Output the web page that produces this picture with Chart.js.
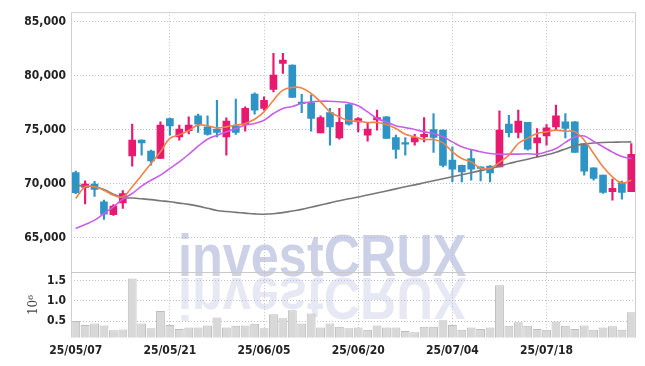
<!DOCTYPE html>
<html>
<head>
<meta charset="utf-8">
<script src="https://cdn.jsdelivr.net/npm/chart.js@4.4.1/dist/chart.umd.min.js"></script>
<style>
  html, body { margin: 0; padding: 0; background: #fff; }
</style>
</head>
<body>
<canvas id="myChart" width="645" height="366"></canvas>
<script>
// trading days shown on the x axis
const dates = [
  '25/05/07','25/05/08','25/05/09','25/05/12','25/05/13','25/05/14','25/05/15','25/05/16','25/05/19','25/05/20',
  '25/05/21','25/05/22','25/05/23','25/05/26','25/05/27','25/05/28','25/05/29','25/05/30','25/06/02','25/06/04',
  '25/06/05','25/06/09','25/06/10','25/06/11','25/06/12','25/06/13','25/06/16','25/06/17','25/06/18','25/06/19',
  '25/06/20','25/06/23','25/06/24','25/06/25','25/06/26','25/06/27','25/06/30','25/07/01','25/07/02','25/07/03',
  '25/07/04','25/07/07','25/07/08','25/07/09','25/07/10','25/07/11','25/07/14','25/07/15','25/07/16','25/07/17',
  '25/07/18','25/07/21','25/07/22','25/07/23','25/07/24','25/07/25','25/07/28','25/07/29','25/07/30','25/07/31'
];

const opens = [
  71000, 69630, 69950, 68300, 67100, 68200, 72560, 74010, 72990, 72310,
  76020, 74320, 74900, 76260, 75240, 75030, 74320, 75340, 75460, 78270,
  76950, 78700, 81110, 80960, 77450, 77500, 74690, 76570, 74220, 77310,
  75710, 74470, 75890, 76170, 74260, 73700, 73850, 74320, 75000, 74940,
  72160, 71690, 72310, 71450, 71600, 71540, 75490, 74720, 75650, 73760,
  74400, 75240, 75710, 75710, 73700, 71440, 70770, 69230, 70090, 69230
];
const highs = [
  71150, 70250, 70200, 68450, 68050, 69350, 75490, 74050, 73080, 75700,
  76050, 75400, 76170, 76420, 76260, 77710, 76080, 77810, 77090, 78390,
  78020, 82040, 82040, 80990, 78250, 78180, 76260, 76950, 76950, 77350,
  76110, 75560, 76790, 76200, 74470, 74260, 74540, 76110, 76480, 74960,
  73390, 71700, 73150, 71540, 71650, 76720, 76320, 76790, 75660, 75090,
  75460, 77250, 76480, 75720, 73710, 71450, 70780, 70400, 70210, 73700
];
const lows = [
  69050, 68100, 68800, 66670, 67050, 67700, 71600, 72620, 71690, 72310,
  74470, 74010, 74580, 74720, 74470, 74320, 72620, 74540, 74840, 76420,
  76790, 78480, 80190, 77960, 76560, 74840, 74690, 73550, 74100, 75400,
  74780, 73920, 74930, 74170, 72310, 72620, 73550, 73850, 72870, 71540,
  70150, 70150, 70300, 70240, 70150, 71540, 74320, 74220, 73080, 72460,
  73550, 74940, 74220, 72870, 70770, 70300, 69070, 68450, 68550, 69230
];
const closes = [
  69150, 69940, 69450, 67160, 67900, 69070, 74010, 73760, 72090, 75400,
  75340, 75030, 75400, 75490, 74540, 74720, 75770, 74720, 76950, 76790,
  77710, 80030, 81420, 77960, 77400, 76020, 76110, 75240, 75650, 75490,
  76020, 75030, 76110, 74170, 73150, 73650, 74260, 74560, 74260, 71670,
  71320, 71070, 71320, 71400, 70980, 74940, 74700, 75770, 73180, 74220,
  75150, 76260, 75090, 72870, 71140, 70460, 69170, 69540, 69170, 72690
];

// moving averages
const ma5 = [
  68610, 69690, 69690, 69380, 68920, 68760, 69690, 70770, 71850, 72930,
  74170, 74500, 74900, 75400, 75340, 75150, 75240, 75400, 75560, 75950,
  76630, 77710, 78640, 78900, 78850, 78330, 77560, 76630, 76170, 75800,
  75770, 75650, 75650, 75460, 75090, 74550, 74320, 74070, 74070, 73760,
  72930, 72310, 72000, 71440, 71390, 71950, 72620, 73700, 74200, 74630,
  74780, 74940, 74840, 74800, 74010, 72780, 71540, 70610, 70050, 70300
];
const ma20 = [
  65830, 66200, 66600, 67220, 67840, 68550, 69070, 69750, 70300, 70770,
  71390, 72000, 72700, 73450, 74100, 74450, 74780, 75090, 75400, 75560,
  75860, 76480, 76950, 77130, 77410, 77560, 77620, 77620, 77560, 77460,
  77190, 76630, 76020, 75700, 75340, 75170, 75000, 74780, 74630, 74320,
  73850, 73390, 73150, 72930, 72780, 72700, 72720, 72720, 72750, 72720,
  72930, 73240, 73800, 74300, 74400, 73900, 73400, 72900, 72500, 72300
];
const ma60 = [
  69840, 69760, 69690, 69450, 69000, 68700, 68650, 68580, 68500, 68400,
  68300, 68180, 68060, 67900, 67700, 67500, 67400, 67320, 67250, 67180,
  67150, 67200, 67300, 67450, 67600, 67800, 68000, 68200, 68400, 68580,
  68740, 68930, 69120, 69310, 69500, 69690, 69870, 70060, 70250, 70440,
  70620, 70810, 71000, 71190, 71380, 71600, 71850, 72050, 72250, 72450,
  72650, 72900, 73200, 73500, 73650, 73750, 73800, 73820, 73840, 73850
];

// volume in millions
const volumes = [
  0.50, 0.40, 0.44, 0.39, 0.27, 0.29, 1.56, 0.44, 0.32, 0.75,
  0.40, 0.30, 0.34, 0.34, 0.39, 0.59, 0.34, 0.38, 0.39, 0.43,
  0.32, 0.67, 0.57, 0.77, 0.44, 0.69, 0.34, 0.44, 0.36, 0.32,
  0.34, 0.28, 0.39, 0.34, 0.34, 0.25, 0.22, 0.36, 0.36, 0.52,
  0.40, 0.28, 0.34, 0.30, 0.34, 1.39, 0.38, 0.47, 0.38, 0.30,
  0.28, 0.49, 0.38, 0.30, 0.39, 0.28, 0.34, 0.37, 0.28, 0.72
];

const priceTicks = [65000, 70000, 75000, 80000, 85000];
const volumeTicks = [0.5, 1.0, 1.5];

const UP = '#e8196e';
const DOWN = '#2e94c6';
const candleColors = opens.map((o, i) => closes[i] >= o ? UP : DOWN);
const gridColor = 'rgba(180,180,208,0.85)';
const tickFont = { family: '"DejaVu Sans Condensed", "DejaVu Sans"', size: 12, weight: 'bold' };

// watermark + frame lines
const frame = {
  id: 'frame',
  beforeDraw(chart) {
    const ctx = chart.ctx;
    ctx.save();
    ctx.font = 'bold 60px "Liberation Sans"';
    ctx.textBaseline = 'alphabetic';
    ctx.save();
    ctx.scale(0.84, 1);
    ctx.fillStyle = 'rgba(198,204,230,0.9)';
    ctx.fillText('investCRUX', 178 / 0.84, 276);
    ctx.restore();
    // reflection
    ctx.save();
    ctx.translate(0, 554);
    ctx.scale(0.84, -1);
    ctx.fillStyle = 'rgba(210,214,234,0.55)';
    ctx.fillText('investCRUX', 178 / 0.84, 276);
    ctx.restore();
    ctx.restore();
  },
  afterDraw(chart) {
    const { ctx, chartArea: a } = chart;
    const v = chart.scales.v;
    ctx.save();
    ctx.strokeStyle = '#cfcfdc';
    ctx.lineWidth = 1;
    ctx.beginPath();
    ctx.moveTo(a.left + 0.5, a.top);
    ctx.lineTo(a.left + 0.5, a.bottom);
    ctx.moveTo(a.right - 0.5, a.top);
    ctx.lineTo(a.right - 0.5, a.bottom);
    ctx.moveTo(a.left, a.top + 0.5);
    ctx.lineTo(a.right, a.top + 0.5);
    ctx.stroke();
    ctx.strokeStyle = '#c8c8c8';
    ctx.beginPath();
    ctx.moveTo(a.left, Math.round(v.top) + 0.5);
    ctx.lineTo(a.right, Math.round(v.top) + 0.5);
    ctx.stroke();
    ctx.restore();
  }
};

const ctx = document.getElementById('myChart');

new Chart(ctx, {
  data: {
    labels: dates,
    datasets: [
      {
        type: 'line', label: 'MA5', data: ma5, yAxisID: 'y', order: 0,
        borderColor: '#ef8348', borderWidth: 1.6, pointRadius: 0, tension: 0.4
      },
      {
        type: 'line', label: 'MA20', data: ma20, yAxisID: 'y', order: 0,
        borderColor: '#c95ee8', borderWidth: 1.6, pointRadius: 0, tension: 0.4
      },
      {
        type: 'line', label: 'MA60', data: ma60, yAxisID: 'y', order: 0,
        borderColor: '#777777', borderWidth: 1.6, pointRadius: 0, tension: 0.4
      },
      {
        type: 'bar', label: 'wick', yAxisID: 'y', order: 1, grouped: false,
        data: lows.map((l, i) => [l, highs[i]]),
        backgroundColor: candleColors, barThickness: 1.5, borderWidth: 0
      },
      {
        type: 'bar', label: 'body', yAxisID: 'y', order: 1, grouped: false,
        data: opens.map((o, i) => [o, closes[i]]),
        backgroundColor: candleColors, barThickness: 7, minBarLength: 1.5, borderWidth: 0
      },
      {
        type: 'bar', label: 'volume', yAxisID: 'v', order: 2, grouped: false,
        data: volumes,
        backgroundColor: '#d8d8d8', borderColor: '#bdbdbd', borderWidth: 1,
        barPercentage: 1, categoryPercentage: 0.94
      }
    ]
  },
  options: {
    responsive: false,
    animation: false,
    devicePixelRatio: 1,
    layout: { padding: { left: 0, right: 9, top: 12, bottom: 0 } },
    plugins: { legend: { display: false }, tooltip: { enabled: false } },
    scales: {
      x: {
        type: 'category',
        offset: true,
        afterFit: s => { s.height = 28.5; },
        grid: {
          offset: false, drawTicks: false,
          color: c => (c.index % 10 === 0 && c.index > 0) ? gridColor : 'rgba(0,0,0,0)'
        },
        border: { display: false, dash: [1, 2] },
        ticks: {
          autoSkip: false, maxRotation: 0, padding: 6, color: '#222', font: tickFont,
          callback: function (v, i) { return i % 10 === 0 ? this.getLabelForValue(v) : ''; }
        }
      },
      v: {
        type: 'linear', position: 'left', stack: 'main', stackWeight: 1,
        min: 0.09, max: 1.71,
        afterFit: s => { s.width = 71; },
        afterBuildTicks: s => { s.ticks = volumeTicks.map(v => ({ value: v })); },
        grid: { color: gridColor, drawTicks: false },
        border: { display: false, dash: [1, 2] },
        title: {
          display: true, text: '10\u2076', color: '#444',
          font: { family: '"DejaVu Serif"', size: 12 },
          padding: { top: 27, bottom: 0 }
        },
        ticks: {
          padding: 5, color: '#222', font: tickFont,
          callback: v => v.toFixed(1)
        }
      },
      y: {
        type: 'linear', position: 'left', stack: 'main', stackWeight: 4,
        min: 61760, max: 85860,
        afterFit: s => { s.width = 71; },
        afterBuildTicks: s => { s.ticks = priceTicks.map(v => ({ value: v })); },
        grid: { color: gridColor, drawTicks: false },
        border: { display: false, dash: [1, 2] },
        ticks: {
          padding: 5, color: '#222', font: tickFont,
          callback: v => v.toLocaleString('en-US')
        }
      }
    }
  },
  plugins: [frame]
});
</script>
</body>
</html>
